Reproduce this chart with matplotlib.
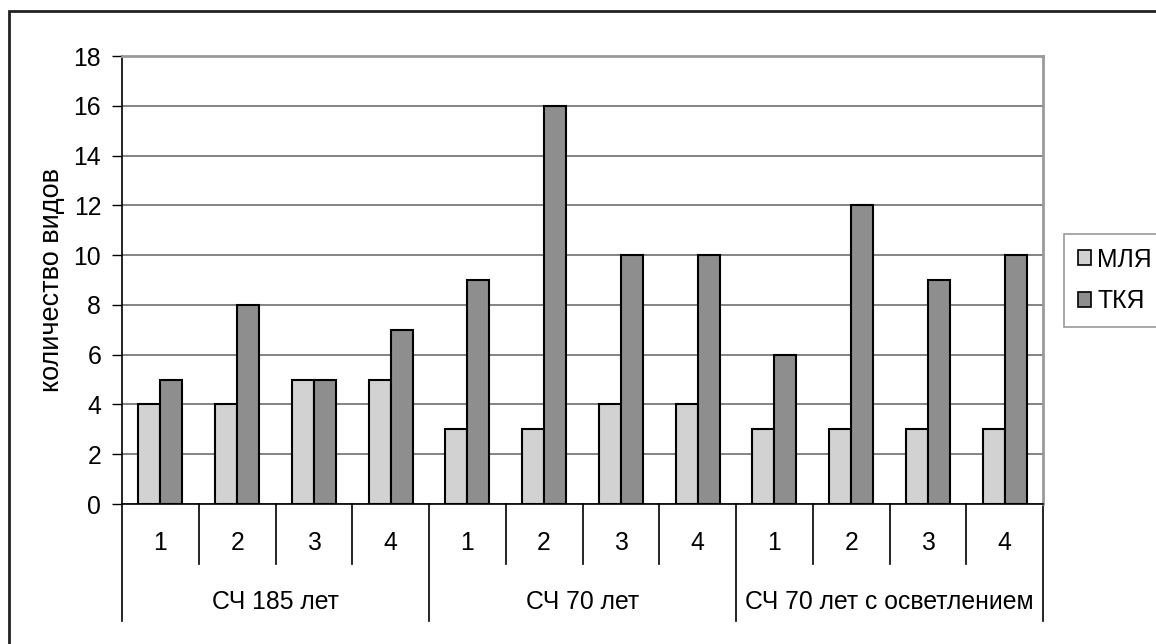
import matplotlib
matplotlib.use("Agg")
import matplotlib.pyplot as plt
from matplotlib.patches import Patch, Rectangle
from matplotlib.lines import Line2D

plt.rcParams['font.family'] = ['Liberation Sans', 'DejaVu Sans']

# данные по участкам
groups = ['СЧ 185 лет', 'СЧ 70 лет', 'СЧ 70 лет с осветлением']
plots = ['1', '2', '3', '4']
mlya = [4, 4, 5, 5, 3, 3, 4, 4, 3, 3, 3, 3]
tkya = [5, 8, 5, 7, 9, 16, 10, 10, 6, 12, 9, 10]
series_names = ['МЛЯ', 'ТКЯ']
light, dark = '#d2d2d2', '#8e8e8e'

W, H = 1156, 644
fs = 17.8
fig = plt.figure(figsize=(W / 100, H / 100), dpi=100)
# область построения в пикселях: x 122..1043, y 56..504
ax = fig.add_axes([122 / W, 1 - 504 / H, (1043 - 122) / W, (504 - 56) / H])

n = len(mlya)
x = list(range(n))
bw = 1 / 3.5
ax.bar([i - bw / 2 for i in x], mlya, width=bw, color=light, edgecolor='black', linewidth=1.5, zorder=3)
ax.bar([i + bw / 2 for i in x], tkya, width=bw, color=dark, edgecolor='black', linewidth=1.5, zorder=3)

ax.set_xlim(-0.5, n - 0.5)
ax.set_ylim(0, 18)
ax.set_yticks(range(0, 19, 2))
ax.yaxis.grid(True, color='#6e6e6e', linewidth=1.2, zorder=0)
ax.tick_params(axis='y', direction='out', length=7, width=1, labelsize=fs, pad=8, color='black')
ax.set_xticks([])

for s in ['top', 'right']:
    ax.spines[s].set_color('#9a9a9a')
    ax.spines[s].set_linewidth(2)
ax.spines['left'].set_linewidth(1.2)
ax.spines['bottom'].set_linewidth(1.2)

# двухуровневая подпись оси категорий
tr = ax.get_xaxis_transform()
h1 = 60 / 448
h2 = 117 / 448
for k in range(n + 1):
    xb = k - 0.5
    depth = h2 if k % 4 == 0 else h1
    ax.add_line(Line2D([xb, xb], [0, -depth], transform=tr, color='black', linewidth=1.2, clip_on=False))
for i in x:
    ax.text(i, -39 / 448, plots[i % 4], transform=tr, ha='center', va='center', fontsize=fs)
for g, name in enumerate(groups):
    ax.text(g * 4 + 1.5, -98 / 448, name, transform=tr, ha='center', va='center', fontsize=fs)

fig.text(52 / W, 1 - 280 / H, 'количество видов', rotation=90, ha='center', va='center', fontsize=19.5)

handles = [Patch(facecolor=light, edgecolor='black', linewidth=1.2),
           Patch(facecolor=dark, edgecolor='black', linewidth=1.2)]
leg = fig.legend(handles, series_names, loc='upper left', bbox_to_anchor=(1064 / W, 1 - 234 / H),
                 fontsize=fs, frameon=True, fancybox=False, handlelength=0.55, handleheight=0.55,
                 handletextpad=0.25, labelspacing=0.7, borderpad=0.55, borderaxespad=0)
leg.get_frame().set_edgecolor('#808080')
leg.get_frame().set_linewidth(1.2)

# рамка диаграммы
fig.patches.append(Rectangle((9 / W, -0.1), 1.2, 1 - 11 / H + 0.1, transform=fig.transFigure,
                             fill=False, edgecolor='#222222', linewidth=2, zorder=0))

fig.savefig('out.png', dpi=100)
